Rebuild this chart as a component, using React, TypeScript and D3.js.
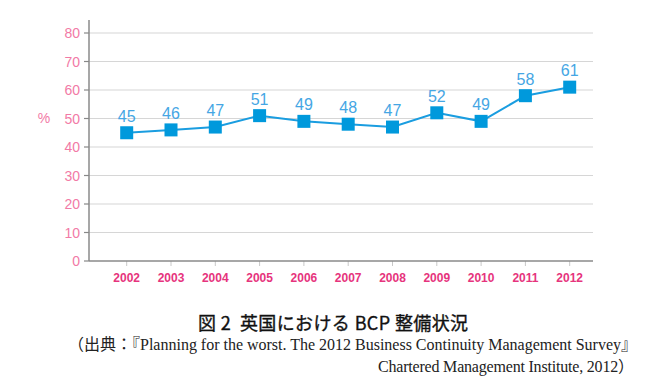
import React from "react";
import * as d3 from "d3";

const years = ["2002","2003","2004","2005","2006","2007","2008","2009","2010","2011","2012"];
const values = [45, 46, 47, 51, 49, 48, 47, 52, 49, 58, 61];
const yTicks = [0, 10, 20, 30, 40, 50, 60, 70, 80];
const title = "図 2  英国における BCP 整備状況";
const source1 = "（出典：『Planning for the worst. The 2012 Business Continuity Management Survey』";
const source2 = "Chartered Management Institute, 2012）";

export default function App() {
  const W = 670, H = 384;
  const x = d3.scalePoint<string>().domain(years).range([126.7, 569.7]).padding(0);
  const y = d3.scaleLinear().domain([0, 80]).range([261, 33]);
  const axisX0 = 89, axisX1 = 593;
  const line = d3.line<number>().x((_, i) => x(years[i])!).y(d => y(d));
  const sans = "Liberation Sans, Arial, sans-serif";
  const serif = "Liberation Serif, Times New Roman, Noto Sans CJK JP, serif";
  const ms = 13;
  return (
    <svg width={W} height={H} style={{ position: "absolute", left: 0, top: 0, background: "#fff" }}>
      {yTicks.filter(t => t > 0).map(t => (
        <line key={"g" + t} x1={axisX0} x2={axisX1} y1={y(t)} y2={y(t)} stroke="#d6d6d6" strokeWidth={1.2} />
      ))}
      {yTicks.map(t => (
        <g key={"t" + t}>
          <line x1={axisX0 - 5} x2={axisX0} y1={y(t)} y2={y(t)} stroke="#888" strokeWidth={1.2} />
          <text x={80} y={y(t)} dy="0.36em" textAnchor="end" fontFamily={sans} fontSize={14} fill="#f27aa6">{t}</text>
        </g>
      ))}
      {years.map(yr => (
        <g key={"x" + yr}>
          <line x1={x(yr)} x2={x(yr)} y1={y(0)} y2={y(0) + 5} stroke="#c8c8c8" strokeWidth={1} />
          <text x={x(yr)} y={282} textAnchor="middle" fontFamily={sans} fontSize={12} fontWeight="bold" fill="#e6347d">{yr}</text>
        </g>
      ))}
      <line x1={axisX0} x2={axisX0} y1={20} y2={y(0)} stroke="#8a8a8a" strokeWidth={1.5} />
      <line x1={axisX0} x2={axisX1} y1={y(0)} y2={y(0)} stroke="#8a8a8a" strokeWidth={1.5} />
      <text x={44} y={118} dy="0.36em" textAnchor="middle" fontFamily={sans} fontSize={14} fill="#f27aa6">%</text>
      <path d={line(values)!} fill="none" stroke="#1a9de0" strokeWidth={2} />
      {values.map((v, i) => (
        <g key={"p" + i}>
          <rect x={x(years[i])! - ms / 2} y={y(v) - ms / 2} width={ms} height={ms} fill="#0099dc" />
          <text x={x(years[i])!} y={y(v) - 11} textAnchor="middle" fontFamily={sans} fontSize={16} fill="#45a6e4">{v}</text>
        </g>
      ))}
      <text x={198} y={330} style={{ whiteSpace: "pre" }} textLength={270} lengthAdjust="spacing" fontFamily="Noto Sans CJK JP, sans-serif" fontSize={18} fill="#111" stroke="#111" strokeWidth={0.35}>{title}</text>
      <text x={68} y={350} textLength={569} lengthAdjust="spacing" fontFamily={serif} fontSize={16} fill="#222">{source1}</text>
      <text x={378} y={372} textLength={256} lengthAdjust="spacing" fontFamily={serif} fontSize={16} fill="#222">{source2}</text>
    </svg>
  );
}
